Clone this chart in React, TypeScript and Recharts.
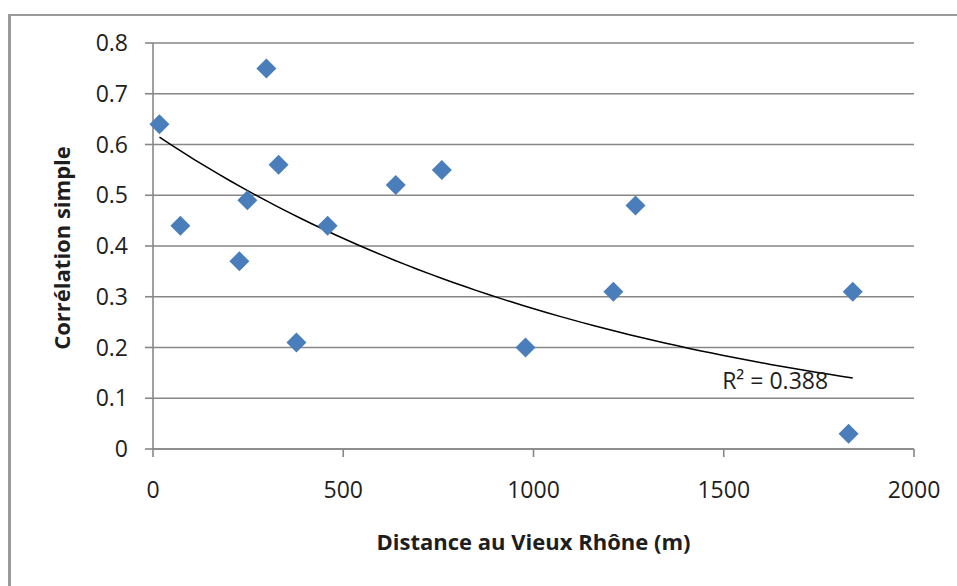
import React from 'react';
import {
  ScatterChart,
  Scatter,
  XAxis,
  YAxis,
  CartesianGrid,
  ReferenceDot,
  Label,
} from 'recharts';

// distance (m) and simple correlation
const distances = [17, 72, 227, 248, 298, 330, 377, 459, 638, 759, 979, 1210, 1268, 1839, 1828];
const correlations = [0.64, 0.44, 0.37, 0.49, 0.75, 0.56, 0.21, 0.44, 0.52, 0.55, 0.2, 0.31, 0.48, 0.31, 0.03];

const xTicks = [0, 500, 1000, 1500, 2000];
const yTicks = [0, 0.1, 0.2, 0.3, 0.4, 0.5, 0.6, 0.7, 0.8];
const r2Label = 'R² = 0.388';

const points = distances.map((x, i) => ({ x, y: correlations[i] }));

// Excel-style exponential trendline: least squares of ln(y) on x
function expFit(xs: number[], ys: number[]) {
  const n = xs.length;
  const ly = ys.map((v) => Math.log(v));
  const mx = xs.reduce((a, b) => a + b, 0) / n;
  const my = ly.reduce((a, b) => a + b, 0) / n;
  let sxy = 0;
  let sxx = 0;
  xs.forEach((x, i) => {
    sxy += (x - mx) * (ly[i] - my);
    sxx += (x - mx) * (x - mx);
  });
  const b = sxy / sxx;
  const a = Math.exp(my - b * mx);
  return (x: number) => a * Math.exp(b * x);
}

const trend = expFit(distances, correlations);
const xMin = Math.min(...distances);
const xMax = Math.max(...distances);
const trendPoints = Array.from({ length: 60 }, (_, i) => {
  const x = xMin + ((xMax - xMin) * i) / 59;
  return { x, y: trend(x) };
});

const FONT = '"Open Sans", "Liberation Sans", sans-serif';
const AXIS = '#878787';
const BLUE = '#4a7ebb';
const TEXT = '#1e1e1e';

const Diamond = (props: any) => {
  const { cx, cy } = props;
  const r = 10;
  return (
    <polygon
      points={`${cx},${cy - r} ${cx + r},${cy} ${cx},${cy + r} ${cx - r},${cy}`}
      fill={BLUE}
    />
  );
};

export default function App() {
  return (
    <div style={{ position: 'absolute', left: 0, top: 0, width: 957, height: 586, overflow: 'hidden', background: '#fff' }}>
      <div
        style={{
          position: 'absolute',
          left: 8,
          top: 14,
          width: 1100,
          height: 800,
          borderTop: '2px solid #9a9a9a',
          borderLeft: '3px solid #9a9a9a',
        }}
      />
      <div style={{ position: 'absolute', left: 0, top: 0 }}>
        <ScatterChart
          width={957}
          height={586}
          margin={{ top: 43, right: 43, bottom: 107, left: 73 }}
          style={{ fontFamily: FONT }}
        >
          <CartesianGrid vertical={false} stroke={AXIS} strokeWidth={1.6} />
          <XAxis
            type="number"
            dataKey="x"
            domain={[0, 2000]}
            ticks={xTicks}
            interval={0}
            height={30}
            stroke={AXIS}
            strokeWidth={1.6}
            tickSize={8}
            tickMargin={25}
            tick={{ fill: TEXT, fontSize: 23, fontFamily: FONT }}
          >
            <Label
              value="Distance au Vieux Rhône (m)"
              position="bottom"
              offset={55}
              style={{ fill: TEXT, fontSize: 22, fontWeight: 700, fontFamily: FONT }}
            />
          </XAxis>
          <YAxis
            type="number"
            dataKey="y"
            domain={[0, 0.8]}
            ticks={yTicks}
            interval={0}
            width={80}
            stroke={AXIS}
            strokeWidth={1.6}
            tickSize={8}
            tickMargin={17}
            tick={{ fill: TEXT, fontSize: 23, fontFamily: FONT }}
            label={{
              content: () => (
                <text
                  x={61}
                  y={248}
                  transform="rotate(-90 61 248)"
                  textAnchor="middle"
                  dominantBaseline="central"
                  fill={TEXT}
                  fontSize={22}
                  fontWeight={700}
                  fontFamily={FONT}
                >
                  Corrélation simple
                </text>
              ),
            }}
          />
          <Scatter
            data={trendPoints}
            line={{ stroke: '#000', strokeWidth: 1.5 }}
            lineType="joint"
            shape={() => null}
            isAnimationActive={false}
          />
          <Scatter data={points} shape={Diamond} isAnimationActive={false} />
          <ReferenceDot
            x={1635}
            y={0.135}
            r={0}
            fill="none"
            stroke="none"
            label={{
              value: r2Label,
              position: 'center',
              fill: TEXT,
              fontSize: 23,
              fontFamily: FONT,
            }}
          />
        </ScatterChart>
      </div>
    </div>
  );
}
